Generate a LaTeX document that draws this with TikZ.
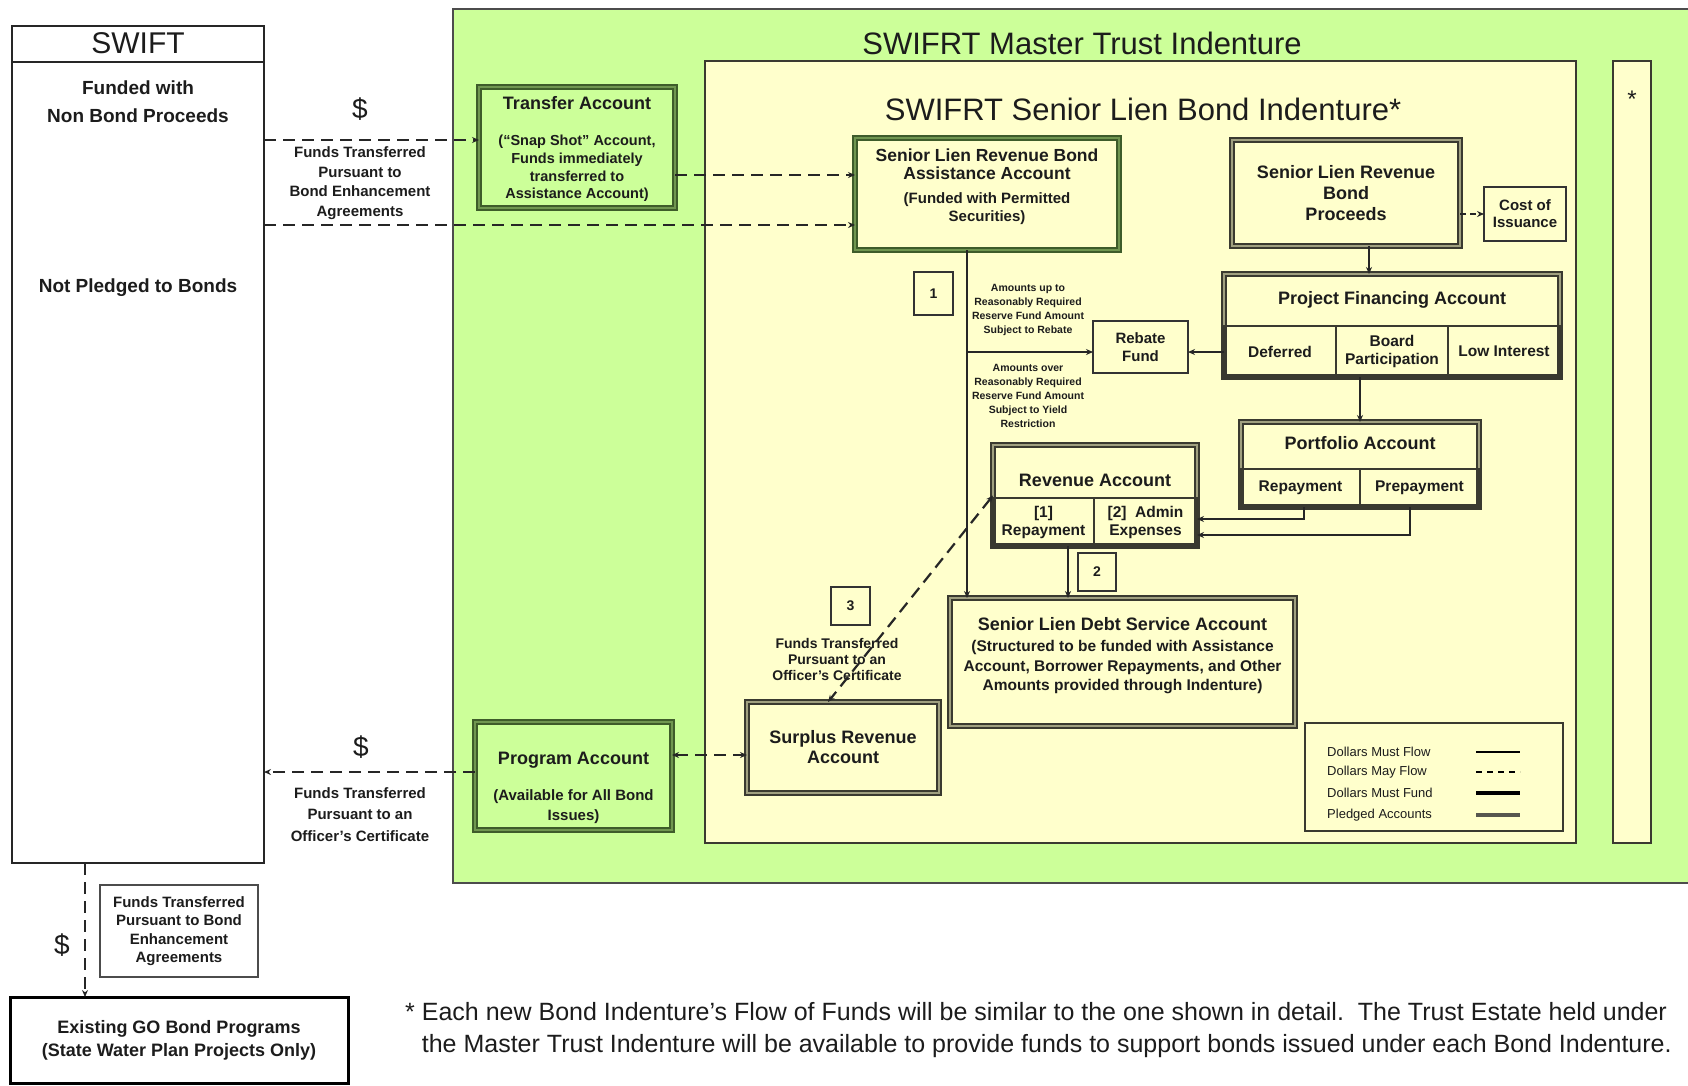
\documentclass[tikz,border=0pt]{standalone}
\usepackage{fontspec}
\setmainfont{Liberation Sans}
\usetikzlibrary{arrows.meta}
\definecolor{mgreen}{RGB}{204,255,153}
\definecolor{myellow}{RGB}{255,255,204}
\definecolor{pdark}{RGB}{62,92,42}
\definecolor{pmid}{RGB}{112,150,80}
\definecolor{fdark}{RGB}{58,58,48}
\definecolor{fmid}{RGB}{160,160,128}
\definecolor{txt}{RGB}{28,28,28}
\newcommand{\fsz}[2]{\fontsize{#1}{#2}\selectfont}
\tikzset{
 box/.style={inner sep=0pt, outer sep=0pt, text=txt, align=center},
 pledged/.style={box, draw=pdark, line width=1.7pt, double=pmid, double distance=2.6pt},
 fundbox/.style={box, draw=fdark, line width=1.7pt, double=fmid, double distance=2.4pt},
 thinbox/.style={box, draw=black!80, line width=1.2pt},
 cellbox/.style={box, draw=fdark, line width=1.6pt, font=\bfseries\fsz{15.5}{18}},
 lbl/.style={inner sep=0pt, text=txt, align=center},
 tipa/.style={-{Stealth[length=7pt,width=6pt]}},
 must/.style={line width=2pt, draw=black!85, tipa},
 may/.style={line width=2.2pt, draw=black!85, dash pattern=on 12pt off 7pt, tipa},
 maytwo/.style={line width=2.2pt, draw=black!85, dash pattern=on 12pt off 7pt, {Stealth[length=7pt,width=6pt]}-{Stealth[length=7pt,width=6pt]}},
}
\begin{document}
\begin{tikzpicture}[x=1pt,y=-1pt]
\useasboundingbox (0,0) rectangle (1688,1085);
% regions
\fill[mgreen] (453,9) rectangle (1688,883);
\draw[black!70, line width=1.2pt] (1688,9) -- (453,9) -- (453,883) -- (1688,883);
\node[box, draw=fdark, line width=1.6pt, fill=myellow, minimum width=871pt, minimum height=782pt] (senior) at (1140.5,452) {};
\node[box, draw=fdark, line width=1.6pt, fill=myellow, minimum width=38pt, minimum height=782pt] (starbox) at (1632,452) {};
\node[lbl, font=\fsz{24}{24}] (star) at (1632,99) {*};
\node[lbl, font=\fsz{31}{36}] (mtitle) at (1082,43) {SWIFRT Master Trust Indenture};
\node[lbl, font=\fsz{31}{36}] (stitle) at (1143,109) {SWIFRT Senior Lien Bond Indenture*};

% SWIFT
\node[box, draw=black!85, line width=1.6pt, minimum width=252pt, minimum height=837pt] (swift) at (138,444.5) {};
\draw[black!85, line width=1.6pt] ([yshift=-36pt]swift.north west) -- ([yshift=-36pt]swift.north east);
\node[lbl, font=\fsz{30}{36}] (swifttitle) at (138,43) {SWIFT};
\node[lbl, font=\bfseries\fsz{19}{28}] (funded) at (138,102) {Funded with\\Non Bond Proceeds};
\node[lbl, font=\bfseries\fsz{19}{24}] (notpl) at (138,288) {Not Pledged to Bonds};
\node[lbl, font=\fsz{28}{28}] (dol1) at (360,109) {\$};
\node[lbl, font=\bfseries\fsz{15}{19.5}] (ft1) at (360,183) {Funds Transferred\\Pursuant to\\Bond Enhancement\\Agreements};

% Transfer account
\node[pledged, minimum width=196pt, minimum height=121pt] (transfer) at (577,147.5) {};
\node[lbl, font=\bfseries\fsz{18}{20}] (transferT) at (577,103) {Transfer Account};
\node[lbl, font=\bfseries\fsz{14.5}{17.7}] (transferS) at (577,168.5) {(``Snap Shot'' Account,\\Funds immediately\\transferred to\\Assistance Account)};

% Assistance account
\node[pledged, minimum width=264pt, minimum height=112pt] (assist) at (987,194) {};
\node[lbl, font=\bfseries\fsz{17.5}{18}] (assistA) at (987,155) {Senior Lien Revenue Bond};
\node[lbl, font=\bfseries\fsz{17.5}{18}] (assistB) at (987,173) {Assistance Account};
\node[lbl, font=\bfseries\fsz{15}{18}] (assistS) at (987,209) {(Funded with Permitted\\Securities)};

\node[thinbox, minimum width=39pt, minimum height=43pt, font=\bfseries\fsz{14}{14}] (one) at (933.5,293.5) {1};
\node[thinbox, minimum width=95pt, minimum height=52pt, font=\bfseries\fsz{15}{18}] (rebate) at (1140.5,347) {Rebate\\Fund};
\node[lbl, font=\bfseries\fsz{10.5}{14}] (amt1) at (1028,310) {Amounts up to\\Reasonably Required\\Reserve Fund Amount\\Subject to Rebate};
\node[lbl, font=\bfseries\fsz{10.5}{14}] (amt2) at (1028,395.5) {Amounts over\\Reasonably Required\\Reserve Fund Amount\\Subject to Yield\\Restriction};

% Proceeds
\node[fundbox, minimum width=228pt, minimum height=106pt, font=\bfseries\fsz{18}{21}] (proceeds) at (1346,193) {Senior Lien Revenue\\Bond\\Proceeds};
\node[thinbox, minimum width=82pt, minimum height=54pt, font=\bfseries\fsz{15}{17}] (cost) at (1525,214) {Cost of\\Issuance};

% Project financing
\node[fundbox, minimum width=336pt, minimum height=103pt] (pf) at (1392,325.5) {};
\node[lbl, font=\bfseries\fsz{18}{20}] (pfT) at (1392,300) {Project Financing Account};
\node[cellbox, minimum width=112pt, minimum height=51pt] (deferred) at (1280,351.5) {Deferred};
\node[cellbox, minimum width=112pt, minimum height=51pt] (board) at (1392,351.5) {Board\\Participation};
\node[cellbox, minimum width=112pt, minimum height=51pt] (low) at (1504,351.5) {Low Interest};

% Portfolio
\node[fundbox, minimum width=238pt, minimum height=85pt] (portfolio) at (1360,464.5) {};
\node[lbl, font=\bfseries\fsz{18}{20}] (portT) at (1360,443) {Portfolio Account};
\node[cellbox, minimum width=119pt, minimum height=38pt] (repay) at (1300.5,488) {Repayment};
\node[cellbox, minimum width=119pt, minimum height=38pt] (prepay) at (1419.5,488) {Prepayment};

% Revenue
\node[fundbox, minimum width=204pt, minimum height=101pt] (revenue) at (1095,495.5) {};
\node[lbl, font=\bfseries\fsz{18}{20}] (revT) at (1095,480) {Revenue Account};
\node[cellbox, minimum width=101pt, minimum height=48pt] (rep1) at (1043.5,522) {[1]\\Repayment};
\node[cellbox, minimum width=103pt, minimum height=48pt] (admin) at (1145.5,522) {[2]\ \ Admin\\Expenses};

\node[thinbox, minimum width=38pt, minimum height=38pt, font=\bfseries\fsz{14}{14}] (two) at (1097,572) {2};

% Debt service
\node[fundbox, minimum width=345pt, minimum height=128pt] (debt) at (1122.5,662) {};
\node[lbl, font=\bfseries\fsz{18}{20}] (debtT) at (1122.5,624) {Senior Lien Debt Service Account};
\node[lbl, font=\bfseries\fsz{15.5}{19.5}] (debtS) at (1122.5,667.5) {(Structured to be funded with Assistance\\Account, Borrower Repayments, and Other\\Amounts provided through Indenture)};

\node[thinbox, minimum width=39pt, minimum height=38pt, font=\bfseries\fsz{14}{14}] (three) at (850.5,606) {3};
\node[lbl, font=\bfseries\fsz{14}{16}] (ft3) at (837,659) {Funds Transferred\\Pursuant to an\\Officer's Certificate};

\node[fundbox, minimum width=192pt, minimum height=91pt, font=\bfseries\fsz{18}{20}] (surplus) at (843,747.5) {Surplus Revenue\\Account};

% Program
\node[pledged, minimum width=197pt, minimum height=108pt] (program) at (573.5,776) {};
\node[lbl, font=\bfseries\fsz{18}{20}] (progT) at (573.5,760) {Program Account};
\node[lbl, font=\bfseries\fsz{15}{20}] (progS) at (573.5,807) {(Available for All Bond\\Issues)};
\node[lbl, font=\fsz{28}{28}] (dol2) at (361,747) {\$};
\node[lbl, font=\bfseries\fsz{15}{21.5}] (ft2) at (360,814.5) {Funds Transferred\\Pursuant to an\\Officer's Certificate};

% Bottom left
\node[box, draw=black!70, line width=1.4pt, minimum width=158pt, minimum height=92pt, font=\bfseries\fsz{15}{18.5}] (ftbox) at (179,931) {Funds Transferred\\Pursuant to Bond\\Enhancement\\Agreements};
\node[lbl, font=\fsz{28}{28}] (dol3) at (62,945) {\$};
\node[box, draw=black, line width=3pt, minimum width=338pt, minimum height=86pt, font=\bfseries\fsz{18}{23}] (existing) at (179,1040) {Existing GO Bond Programs\\(State Water Plan Projects Only)};

% Footnote
\node[lbl, anchor=west, align=left, font=\fsz{25}{32}] (foot) at (405,1030.5) {* Each new Bond Indenture's Flow of Funds will be similar to the one shown in detail.\ \ The Trust Estate held under\\\phantom{* }the Master Trust Indenture will be available to provide funds to support bonds issued under each Bond Indenture.};

% Legend
\node[box, draw=fdark, line width=1.5pt, minimum width=258pt, minimum height=108pt] (legend) at (1434,777) {};
\node[lbl, anchor=west, font=\fsz{13}{13}] (lg1) at (1327,752) {Dollars Must Flow};
\node[lbl, anchor=west, font=\fsz{13}{13}] (lg2) at (1327,772) {Dollars May Flow};
\node[lbl, anchor=west, font=\fsz{13}{13}] (lg3) at (1327,793) {Dollars Must Fund};
\node[lbl, anchor=west, font=\fsz{13}{13}] (lg4) at (1327,815) {Pledged Accounts};
\coordinate (la1) at (1476,752); \coordinate (lb1) at (1520,752);
\coordinate (la2) at (1476,772); \coordinate (lb2) at (1520,772);
\coordinate (la3) at (1476,793); \coordinate (lb3) at (1520,793);
\coordinate (la4) at (1476,815); \coordinate (lb4) at (1520,815);
\draw[black, line width=1.3pt] (la1) -- (lb1);
\draw[black, line width=1.3pt, dash pattern=on 6pt off 5pt] (la2) -- (lb2);
\draw[black, line width=3.2pt] (la3) -- (lb3);
\draw[fdark!85, line width=4.5pt] (la4) -- (lb4);

% Connectors
\coordinate (tIn) at ([yshift=7.5pt]transfer.west);
\draw[may] (swift.east |- tIn) -- (tIn);
\coordinate (aIn1) at ([yshift=19pt]assist.west);
\draw[may] (transfer.east |- aIn1) -- (aIn1);
\coordinate (aIn2) at ([yshift=-31pt]assist.west);
\draw[may] (swift.east |- aIn2) -- (aIn2);
\coordinate (aOut) at ([xshift=-20pt]assist.south);
\draw[must] (aOut) -- (debt.north -| aOut);
\coordinate (rIn) at ([yshift=-5pt]rebate.west);
\draw[must] (aOut |- rIn) -- (rIn);
\coordinate (rIn2) at ([yshift=-5pt]rebate.east);
\draw[must] (deferred.west |- rIn2) -- (rIn2);
\draw[may, dash pattern=on 6pt off 4pt] (proceeds.east |- cost.west) -- (cost.west);
\coordinate (pOut) at ([xshift=23pt]proceeds.south);
\draw[must] (pOut) -- (pf.north -| pOut);
\draw[must] (pf.south -| portfolio.north) -- (portfolio.north);
\coordinate (revIn1) at ([yshift=-23.5pt]revenue.east);
\coordinate (revIn2) at ([yshift=-39.5pt]revenue.east);
\draw[must] ([xshift=3.5pt]repay.south) |- (revIn1);
\draw[must] ([xshift=-9.5pt]prepay.south) |- (revIn2);
\coordinate (revOut) at ([xshift=-27pt]revenue.south);
\draw[must] (revOut) -- (debt.north -| revOut);
\draw[maytwo] (revenue.west) -- ([xshift=-15pt]surplus.north);
\coordinate (sIn) at ([yshift=-7.5pt]surplus.west);
\draw[maytwo] (program.east |- sIn) -- (sIn);
\coordinate (swIn) at ([yshift=4pt]program.west);
\draw[may] (swIn) -- (swift.east |- swIn);
\coordinate (swOut) at ([xshift=-53pt]swift.south);
\draw[may] (swOut) -- (existing.north -| swOut);
\end{tikzpicture}
\end{document}
